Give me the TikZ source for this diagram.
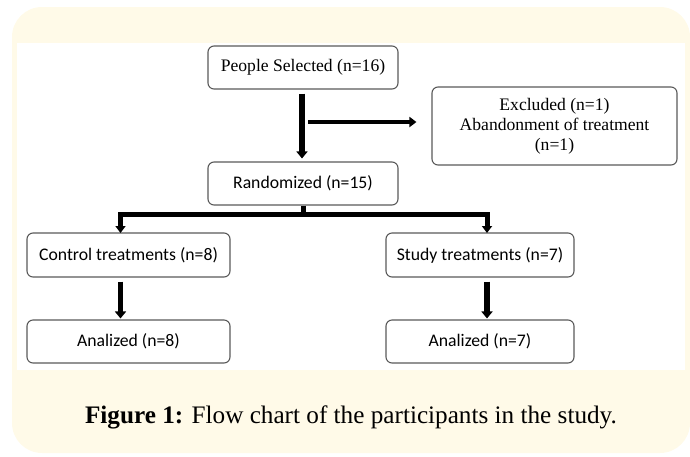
\documentclass[tikz,border=0pt]{standalone}
\usepackage{fontspec}
\setmainfont{Liberation Serif}
\newfontfamily\calfont{Carlito}
\usetikzlibrary{arrows.meta}
\definecolor{cream}{RGB}{255,250,232}
\definecolor{boxline}{RGB}{90,90,90}
\tikzset{
  fbox/.style={draw=boxline, line width=1.1pt, rounded corners=6pt, fill=white, inner sep=0pt, align=center},
  serifbox/.style={fbox, font=\fontsize{17.6}{20}\selectfont},
  calbox/.style={fbox, font=\calfont\fontsize{17.7}{20}\selectfont},
  flow/.style={line width=5.5pt, -{Triangle[width=11pt,length=7pt]}},
  flowthin/.style={line width=4.5pt, -{Triangle[width=10pt,length=7pt]}},
}
\begin{document}
\begin{tikzpicture}[x=1pt,y=-1pt]
\useasboundingbox (0,0) rectangle (690,456);
% panels
\fill[cream, rounded corners=30pt] (12,7) rectangle (690,453);
\fill[white] (17,43) rectangle (685,370);
% boxes
\node[serifbox, minimum width=190pt, minimum height=43pt] (sel) at (303,67.5) {People Selected (n=16)};
\node[serifbox, minimum width=245pt, minimum height=78pt] (exc) at (554.5,126) {Excluded (n=1)\\Abandonment of treatment\\(n=1)};
\node[calbox, minimum width=190pt, minimum height=43pt] (rand) at (303,183.5) {Randomized (n=15)};
\node[calbox, minimum width=203pt, minimum height=44pt] (ctrl) at (128.5,255) {Control treatments (n=8)};
\node[calbox, minimum width=188pt, minimum height=44pt] (study) at (480,255) {Study treatments (n=7)};
\node[calbox, minimum width=203pt, minimum height=43pt] (an1) at (128.5,341.5) {Analized (n=8)};
\node[calbox, minimum width=188pt, minimum height=43pt] (an2) at (480,341.5) {Analized (n=7)};
% connector points
\coordinate (s1) at ([xshift=-1pt,yshift=-4pt]sel.south);
\coordinate (r1) at ([xshift=-1pt,yshift=3pt]rand.north);
\coordinate (b0) at (308,122);
\coordinate (e1) at ([xshift=-15pt]exc.west |- b0);
\coordinate (rb) at (rand.south);
\coordinate (bm) at (303,214);
\coordinate (bl) at (120.5,214);
\coordinate (br) at (487,214);
\coordinate (cl) at (120.5,233);
\coordinate (cr) at (487,233);
\coordinate (c1) at ([yshift=-4pt]ctrl.south -| cl);
\coordinate (a1) at ([yshift=1pt]an1.north -| cl);
\coordinate (c2) at ([yshift=-4pt]study.south -| cr);
\coordinate (a2) at ([yshift=1pt]an2.north -| cr);
% connectors
\draw[flow] (s1) -- (r1);
\draw[flowthin] (b0) -- (e1);
\draw[line width=5pt] (rb) -- (bm);
\draw[line width=5pt, line join=miter, {Triangle[width=10pt,length=7pt]}-{Triangle[width=10pt,length=7pt]}] (cl) -- (bl) -- (br) -- (cr);
\draw[flow, line width=5pt] (c1) -- (a1);
\draw[flow] (c2) -- (a2);
% caption
\node[anchor=base, inner sep=0pt, font=\fontsize{25.2}{30}\selectfont] (cap) at (351,423) {\textbf{Figure 1:} Flow chart of the participants in the study.};
\end{tikzpicture}
\end{document}
